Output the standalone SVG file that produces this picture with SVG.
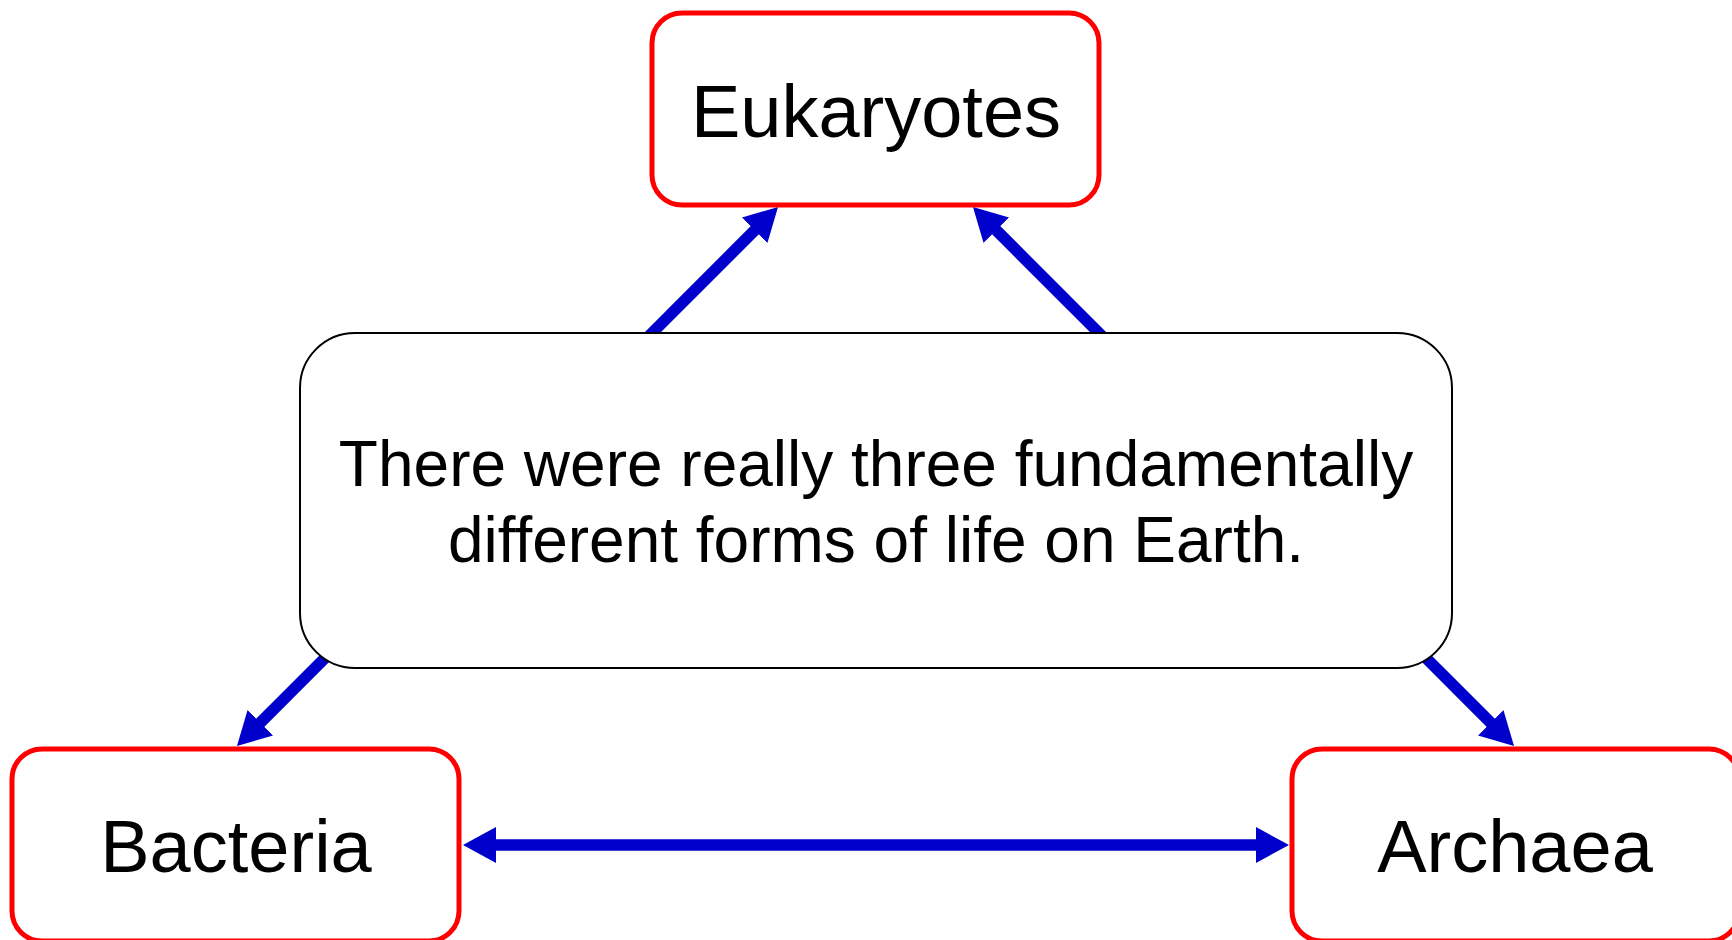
<svg xmlns="http://www.w3.org/2000/svg" width="1732" height="940" viewBox="0 0 1732 940">
  <style>
    .term rect { fill: #ffffff; stroke: #ff0000; stroke-width: 5; }
    .term text { font-family: "Liberation Sans", Arial, sans-serif; font-size: 74px; fill: #000000; text-anchor: middle; }
    .note rect { fill: #ffffff; stroke: #000000; stroke-width: 2; }
    .note text { font-family: "Liberation Sans", Arial, sans-serif; font-size: 64px; fill: #000000; text-anchor: middle; }
    .conn line { stroke: #0000cc; stroke-width: 11.5; fill: none; }
  </style>
  <defs>
    <marker id="head" markerUnits="userSpaceOnUse" markerWidth="40" markerHeight="40" viewBox="0 -20 40 40" refX="2" refY="0" orient="auto-start-reverse">
      <path d="M0,-18 L33,0 L0,18 Z" fill="#0000cc"/>
    </marker>
  </defs>
  <rect width="1732" height="940" fill="#ffffff"/>
  <g id="connectors" class="conn">
    <line x1="635" y1="350" x2="756.1" y2="228.9" marker-end="url(#head)"/>
    <line x1="1116" y1="350" x2="994.9" y2="228.9" marker-end="url(#head)"/>
    <line x1="343" y1="640" x2="258.9" y2="724.1" marker-end="url(#head)"/>
    <line x1="1408" y1="640" x2="1492.1" y2="724.1" marker-end="url(#head)"/>
    <line x1="494" y1="845" x2="1258" y2="845" marker-start="url(#head)" marker-end="url(#head)"/>
  </g>
  <g id="eukaryotes" class="term">
    <rect x="652" y="13" width="447" height="192" rx="30" ry="30"/>
    <text x="876" y="137">Eukaryotes</text>
  </g>
  <g id="bacteria" class="term">
    <rect x="12" y="749" width="447" height="192" rx="30" ry="30"/>
    <text x="236" y="872">Bacteria</text>
  </g>
  <g id="archaea" class="term">
    <rect x="1292" y="749" width="447" height="192" rx="30" ry="30"/>
    <text x="1515" y="872">Archaea</text>
  </g>
  <g id="statement" class="note">
    <rect x="300" y="333" width="1152" height="335" rx="55" ry="55"/>
    <text x="876" y="486">There were really three fundamentally</text>
    <text x="876" y="562">different forms of life on Earth.</text>
  </g>
</svg>
